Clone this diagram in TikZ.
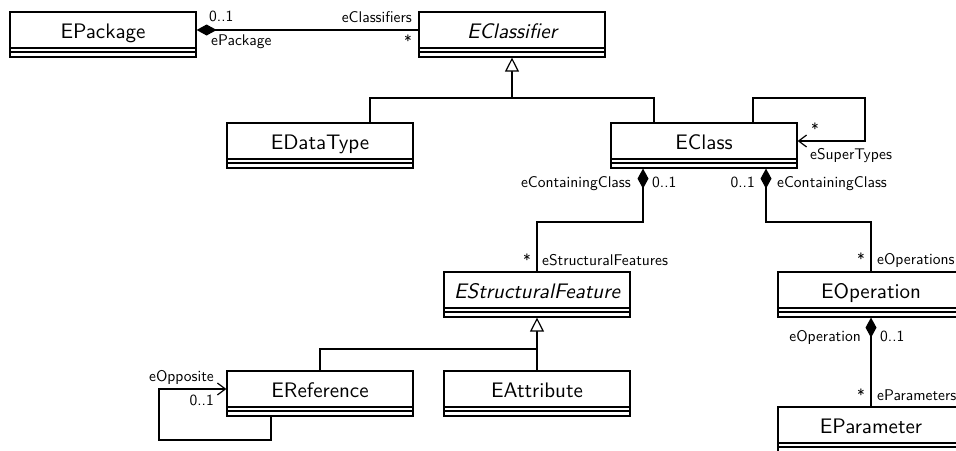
\documentclass[tikz,border=0pt]{standalone}
\usepackage{fontspec}
\setsansfont{lmsans10-regular.otf}[ItalicFont=lmsans10-oblique.otf]
\usetikzlibrary{arrows.meta,calc}

\begin{document}
\begin{tikzpicture}[x=1pt,y=-1pt,
  conn/.style={line width=1.2pt},
  cls/.style={draw, line width=1.2pt, fill=white, minimum width=186pt, minimum height=45pt,
    inner sep=0pt, text height=20pt, text depth=13pt,
    font=\sffamily\fontsize{21}{24}\selectfont,
    path picture={\draw[line width=1.2pt]
      ([yshift=-36pt]path picture bounding box.north west) -- ([yshift=-36pt]path picture bounding box.north east)
      ([yshift=-40pt]path picture bounding box.north west) -- ([yshift=-40pt]path picture bounding box.north east);}},
  abscls/.style={cls, font=\sffamily\itshape\fontsize{21}{24}\selectfont},
  lbl/.style={font=\sffamily\fontsize{15.5}{18}\selectfont, inner sep=0pt},
  comp/.style={conn, {Diamond[length=20pt,width=11pt]}-},
  gen/.style={conn, -{Triangle[length=14pt,width=14pt,fill=white]}},
  nav/.style={conn, -{Straight Barb[length=8pt,width=12pt]}}
]
\useasboundingbox (0,0) rectangle (956,450);

% classes
\node[cls]    (pkg)   at (103,34.5)  {EPackage};
\node[abscls] (clf)   at (512,34.5)  {EClassifier};
\node[cls]    (dt)    at (320,145.5) {EDataType};
\node[cls]    (cl)    at (704,145.5) {EClass};
\node[abscls] (sf)    at (537,294.5) {EStructuralFeature};
\node[cls]    (op)    at (871,294.5) {EOperation};
\node[cls]    (ref)   at (320,393.5) {EReference};
\node[cls]    (att)   at (537,393.5) {EAttribute};
\node[cls]    (par)   at (871,429.5) {EParameter};

% bends of the connectors
\coordinate (genA)  at (512,98);
\coordinate (genB)  at (537,349);
\coordinate (supA)  at (865,98);
\coordinate (sfA)   at (537,222);
\coordinate (opA)   at (871,222);
\coordinate (oppA)  at (159,440);

% EPackage -- EClassifier
\draw[comp] ([yshift=4.5pt]pkg.east) -- ([yshift=4.5pt]clf.west);

% generalisations of EClassifier
\draw[gen] (genA) -- (clf.south);
\draw[conn] ([xshift=50pt]dt.north) |- (genA) -| ([xshift=-50pt]cl.north);

% eSuperTypes
\draw[nav] ([xshift=49pt]cl.north) |- (supA) |- ([yshift=4.5pt]cl.east);

% EClass containments
\draw[comp] ([xshift=-61pt]cl.south) |- (sfA) -- (sf.north);
\draw[comp] ([xshift=62pt]cl.south) |- (opA) -- (op.north);

% generalisations of EStructuralFeature
\draw[gen] (genB) -- (sf.south);
\draw[conn] (ref.north) |- (genB) -- (att.north);

% eOpposite
\draw[nav] ([xshift=-49pt]ref.south) |- (oppA) |- ([yshift=4.5pt]ref.west);

% EOperation -- EParameter
\draw[comp] (op.south) -- (par.north);

% role names and multiplicities
\node[lbl, anchor=base west] (l1)  at (209,21.5) {0..1};
\node[lbl, anchor=base west] (l2)  at (211,45.5) {ePackage};
\node[lbl, anchor=base east] (l3)  at (412,22)   {eClassifiers};
\node[lbl, anchor=base east] (l4)  at (412,46)   {*};

\node[lbl, anchor=base west] (l5)  at (811,134)  {*};
\node[lbl, anchor=base west] (l6)  at (810,159)  {eSuperTypes};

\node[lbl, anchor=base east] (l7)  at (631,187)  {eContainingClass};
\node[lbl, anchor=base west] (l8)  at (652,187)  {0..1};
\node[lbl, anchor=base east] (l9)  at (755,187)  {0..1};
\node[lbl, anchor=base west] (l10) at (777,187)  {eContainingClass};

\node[lbl, anchor=base east] (l11) at (531,265)  {*};
\node[lbl, anchor=base west] (l12) at (542,265)  {eStructuralFeatures};
\node[lbl, anchor=base east] (l13) at (865,264)  {*};
\node[lbl, anchor=base west] (l14) at (877,264)  {eOperations};

\node[lbl, anchor=base east] (l15) at (861,341)  {eOperation};
\node[lbl, anchor=base west] (l16) at (880,341)  {0..1};
\node[lbl, anchor=base east] (l17) at (865,400)  {*};
\node[lbl, anchor=base west] (l18) at (877,400)  {eParameters};

\node[lbl, anchor=base east] (l19) at (214,381)  {eOpposite};
\node[lbl, anchor=base east] (l20) at (214,405)  {0..1};
\end{tikzpicture}
\end{document}
